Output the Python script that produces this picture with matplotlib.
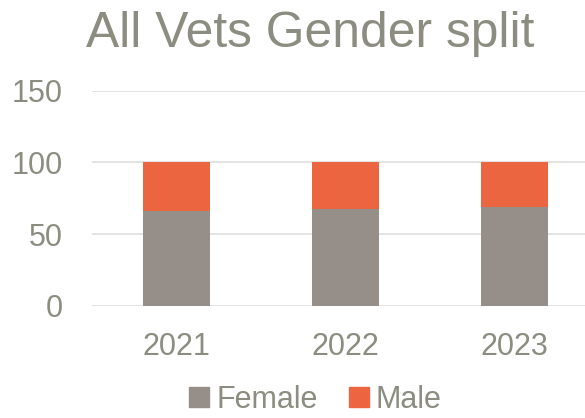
import matplotlib.pyplot as plt
from matplotlib.lines import Line2D

years = ['2021', '2022', '2023']
female = [66.4, 67.6, 68.7]
male = [33.6, 32.4, 31.3]

grey_txt = '#8c8d80'
c_female = '#968f89'
c_male = '#ec6541'

plt.rcParams['font.family'] = ['Liberation Sans', 'DejaVu Sans']

fig = plt.figure(figsize=(5.85, 4.18), dpi=100)
ax = fig.add_axes([92 / 585, 0.268, 507 / 585, 0.515])

x = range(len(years))
ax.bar(x, female, width=0.4, color=c_female, zorder=3)
ax.bar(x, male, width=0.4, bottom=female, color=c_male, zorder=3)

ax.set_xlim(-0.5, 2.5)
ax.set_ylim(0, 150)
ax.set_yticks([0, 50, 100, 150])
ax.set_xticks(list(x))
ax.set_xticklabels(years)
ax.grid(axis='y', color='#dedede', linewidth=1.2, zorder=0)
for s in ax.spines.values():
    s.set_visible(False)
ax.tick_params(axis='both', length=0, labelsize=22, colors=grey_txt)
ax.tick_params(axis='y', pad=21)
ax.tick_params(axis='x', pad=19)

fig.text(310 / 585, 1 - 47 / 418, 'All Vets Gender split', ha='center', va='baseline',
         fontsize=35.8, color=grey_txt)

handles = [Line2D([], [], marker='s', linestyle='', markersize=14, color=c_female),
           Line2D([], [], marker='s', linestyle='', markersize=14, color=c_male)]
leg = fig.legend(handles, ['Female', 'Male'], loc='center', bbox_to_anchor=(315 / 585, 1 - 400 / 418),
                 ncol=2, frameon=False, fontsize=22, handlelength=0.7, handletextpad=0.2,
                 columnspacing=1.0, labelcolor=grey_txt)

fig.savefig('out.png', dpi=100)
